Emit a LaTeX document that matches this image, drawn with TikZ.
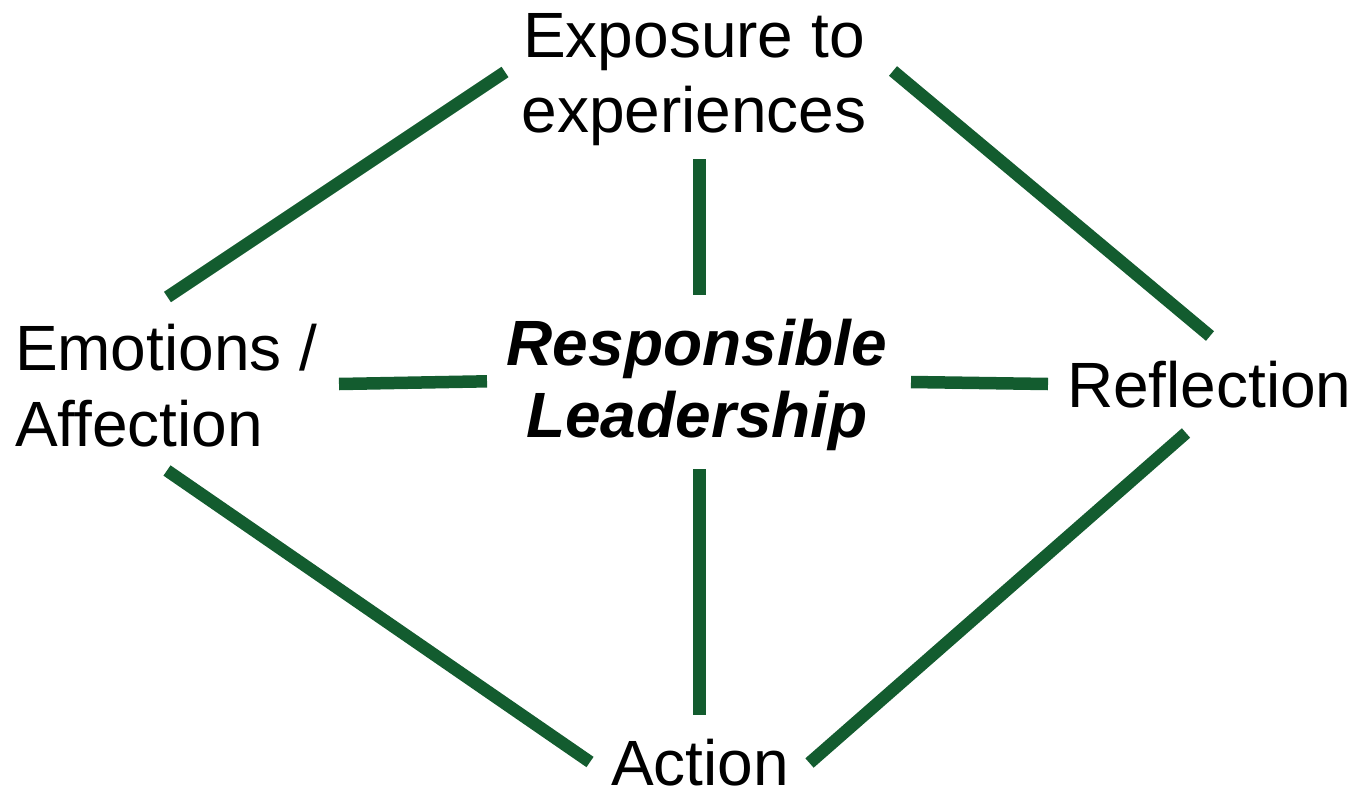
\documentclass[tikz,border=0pt]{standalone}
\usepackage{fontspec}
\setmainfont{Liberation Sans}
\definecolor{linkgreen}{RGB}{19,92,47}
\newcommand\centerpair[2]{\vtop{\halign{\hfil##\hfil\cr #1\cr #2\cr}}}
\newcommand\leftpair[2]{\vtop{\halign{##\hfil\cr #1\cr #2\cr}}}
\tikzset{
  label64/.style={inner sep=0pt, outer sep=0pt, font=\fontsize{64}{75}\selectfont},
  link/.style={draw=linkgreen, line width=12.5pt}
}
\begin{document}
\begin{tikzpicture}[x=1pt,y=-1pt]
\useasboundingbox (0,0) rectangle (1355,790);
% texts
\node[label64, anchor=base] (exp) at (694,57) {\centerpair{Exposure to}{experiences}};
\node[label64, font=\fontsize{64}{76}\selectfont, anchor=base west] (emo) at (15,370) {\leftpair{Emotions /}{Affection}};
\node[label64, font=\fontsize{64}{72}\selectfont\bfseries\itshape, anchor=base] (rl) at (697,365) {\centerpair{Responsible}{Leadership}};
\node[label64, anchor=base west] (refl) at (1067,407) {Reflection};
\node[label64, anchor=base] (act) at (700,785) {Action};
% connector ends
\coordinate (exp-emo) at (505,72);
\coordinate (emo-exp) at (167.5,297);
\coordinate (exp-refl) at (893,71);
\coordinate (refl-exp) at (1210,336);
\coordinate (exp-rl) at (699.5,159);
\coordinate (rl-exp) at (699.5,295);
\coordinate (emo-rl) at (339,384);
\coordinate (rl-emo) at (487,381.3);
\coordinate (rl-refl) at (911,382);
\coordinate (refl-rl) at (1048,384);
\coordinate (rl-act) at (699.5,469);
\coordinate (act-rl) at (699.5,715);
\coordinate (emo-act) at (167,470.5);
\coordinate (act-emo) at (590,762);
\coordinate (refl-act) at (1186,433);
\coordinate (act-refl) at (809.5,763);
% connectors
\draw[link] (exp-emo) -- (emo-exp);
\draw[link] (exp-refl) -- (refl-exp);
\draw[link] (exp-rl) -- (rl-exp);
\draw[link] (emo-rl) -- (rl-emo);
\draw[link] (rl-refl) -- (refl-rl);
\draw[link] (rl-act) -- (act-rl);
\draw[link] (emo-act) -- (act-emo);
\draw[link] (refl-act) -- (act-refl);
\end{tikzpicture}
\end{document}
